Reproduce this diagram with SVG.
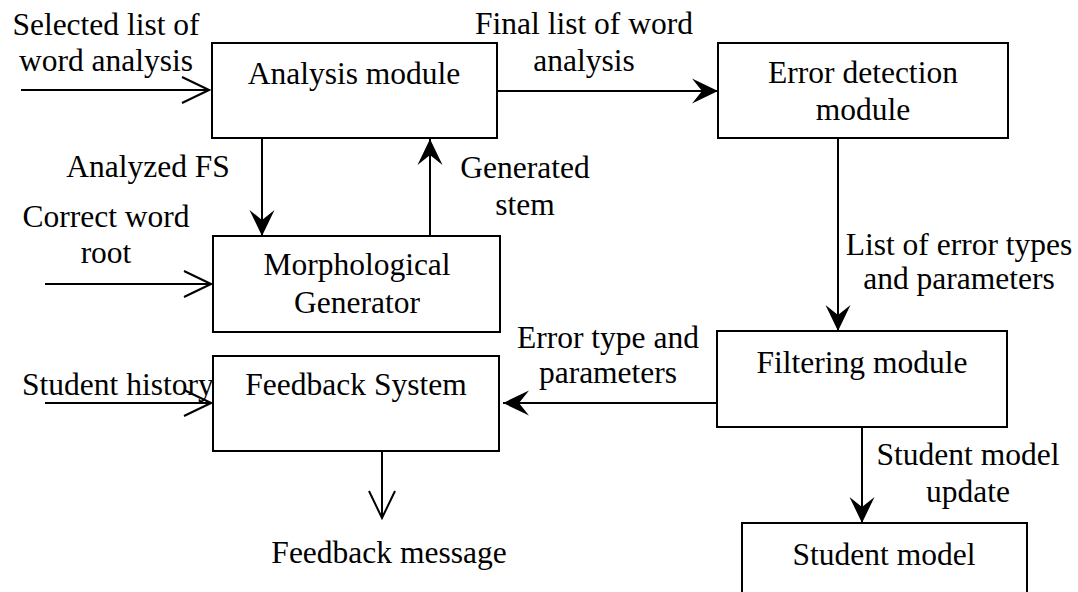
<svg xmlns="http://www.w3.org/2000/svg" width="1078" height="592" viewBox="0 0 1078 592">
  <style>
    .box { fill: #ffffff; stroke: #000000; stroke-width: 2; }
    .lbl { font-family: "Liberation Serif", "Times New Roman", serif; font-size: 31.5px; fill: #000000; }
    .mid { text-anchor: middle; }
    .edge { fill: none; stroke: #000000; stroke-width: 2; }
    .solid { marker-end: url(#solidHead); }
    .open { marker-end: url(#openHead); }
  </style>
  <defs>
    <!-- filled, notched arrowhead -->
    <marker id="solidHead" viewBox="-28 -14 30 28" refX="0" refY="0" markerWidth="30" markerHeight="28" markerUnits="userSpaceOnUse" orient="auto">
      <path d="M0,0 L-26,-12.5 L-16,0 L-26,12.5 Z" fill="#000000" stroke="none"/>
    </marker>
    <!-- open V arrowhead -->
    <marker id="openHead" viewBox="-30 -16 32 32" refX="0" refY="0" markerWidth="32" markerHeight="32" markerUnits="userSpaceOnUse" orient="auto">
      <path d="M-27,-13 L0,0 L-27,13" fill="none" stroke="#000000" stroke-width="2"/>
    </marker>
  </defs>

  <rect width="1078" height="592" fill="#ffffff"/>

  <!-- connectors -->
  <g id="connectors">
    <line class="edge open" x1="21" y1="90" x2="209" y2="90"/>
    <line class="edge solid" x1="497" y1="91" x2="718" y2="91"/>
    <line class="edge solid" x1="262" y1="138" x2="262" y2="236"/>
    <line class="edge solid" x1="430" y1="236" x2="430" y2="139"/>
    <line class="edge open" x1="45" y1="284" x2="211" y2="284"/>
    <line class="edge solid" x1="838" y1="138" x2="838" y2="331"/>
    <line class="edge solid" x1="717" y1="403" x2="503" y2="403"/>
    <line class="edge open" x1="45" y1="403" x2="211" y2="403"/>
    <line class="edge open" x1="382" y1="451" x2="382" y2="518"/>
    <line class="edge solid" x1="862" y1="427" x2="862" y2="523"/>

    <text class="lbl mid" x="106" y="35">Selected list of</text>
    <text class="lbl mid" x="106" y="71">word analysis</text>
    <text class="lbl mid" x="584" y="34">Final list of word</text>
    <text class="lbl mid" x="584" y="71">analysis</text>
    <text class="lbl mid" x="148" y="177">Analyzed FS</text>
    <text class="lbl mid" x="525" y="178">Generated</text>
    <text class="lbl mid" x="525" y="215">stem</text>
    <text class="lbl mid" x="106" y="227">Correct word</text>
    <text class="lbl mid" x="106" y="263">root</text>
    <text class="lbl mid" x="959" y="255">List of error types</text>
    <text class="lbl mid" x="959" y="289">and parameters</text>
    <text class="lbl mid" x="608" y="348">Error type and</text>
    <text class="lbl mid" x="608" y="383">parameters</text>
    <text class="lbl" x="22" y="395">Student history</text>
    <text class="lbl mid" x="389" y="563">Feedback message</text>
    <text class="lbl mid" x="968" y="465">Student model</text>
    <text class="lbl mid" x="968" y="502">update</text>
  </g>

  <g id="analysis-module">
    <rect class="box" x="212" y="43" width="285" height="95"/>
    <text class="lbl mid" x="354" y="84">Analysis module</text>
  </g>

  <g id="error-detection-module">
    <rect class="box" x="718" y="43" width="290" height="95"/>
    <text class="lbl mid" x="863" y="83">Error detection</text>
    <text class="lbl mid" x="863" y="120">module</text>
  </g>

  <g id="morphological-generator">
    <rect class="box" x="213" y="236" width="287" height="96"/>
    <text class="lbl mid" x="357" y="275">Morphological</text>
    <text class="lbl mid" x="357" y="313">Generator</text>
  </g>

  <g id="feedback-system">
    <rect class="box" x="213" y="356" width="286" height="95"/>
    <text class="lbl mid" x="356" y="395">Feedback System</text>
  </g>

  <g id="filtering-module">
    <rect class="box" x="717" y="331" width="290" height="96"/>
    <text class="lbl mid" x="862" y="373">Filtering module</text>
  </g>

  <g id="student-model">
    <rect class="box" x="742" y="523" width="285" height="90"/>
    <text class="lbl mid" x="884" y="565">Student model</text>
  </g>
</svg>
